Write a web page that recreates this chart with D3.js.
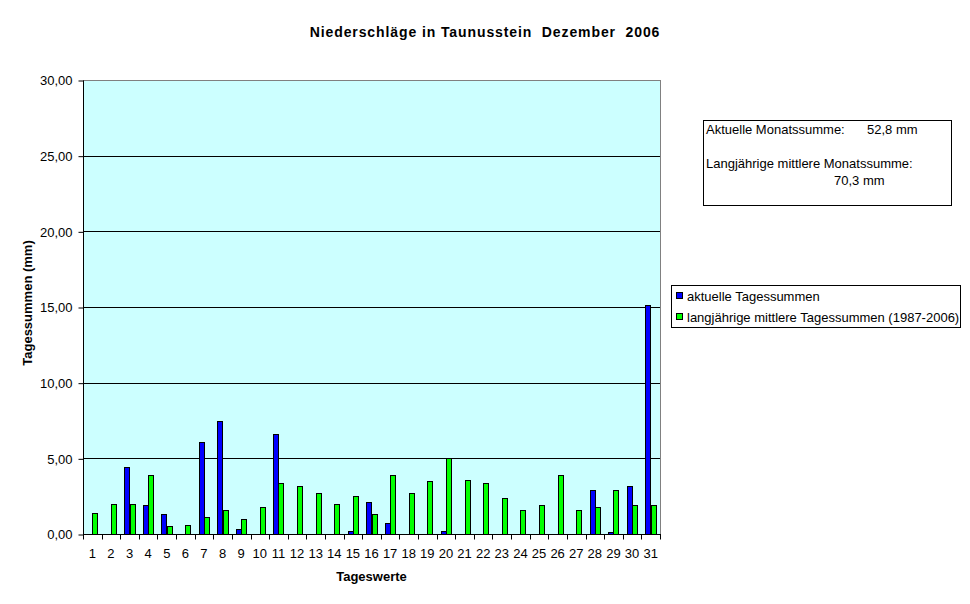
<!DOCTYPE html>
<html><head><meta charset="utf-8">
<script src="https://cdn.jsdelivr.net/npm/d3@7"></script>
<style>body{margin:0;background:#fff;} text{font-family:"Liberation Sans",Arial,sans-serif;}</style>
</head><body>
<svg id="c" width="970" height="604"></svg>
<script>
const days = d3.range(1, 32).map(String);
const aktuell = [0,0,4.4,1.9,1.3,0,6.1,7.5,0.3,0,6.6,0,0,0,0.2,2.1,0.7,0,0,0.2,0,0,0,0,0,0,0,2.9,0.1,3.2,15.1];
const mittel = [1.4,2.0,2.0,3.9,0.5,0.6,1.1,1.6,1.0,1.8,3.4,3.2,2.7,2.0,2.5,1.3,3.9,2.7,3.5,5.0,3.6,3.4,2.4,1.6,1.9,3.9,1.6,1.8,2.9,1.9,1.9];
const yTicks = [0,5,10,15,20,25,30];
const seriesNames = ["aktuelle Tagessummen","langjährige mittlere Tagessummen (1987-2006)"];
const title = "Niederschläge in Taunusstein\u00a0 Dezember\u00a0 2006";
const infoLines = ["Aktuelle Monatssumme:", "52,8 mm", "Langjährige mittlere Monatssumme:", "70,3 mm"];

const FS = 13;
const svg = d3.select("#c");
const L = 83, R = 660, T = 80, B = 534;
const x = d3.scaleBand().domain(days).range([L, R]).paddingInner(0).paddingOuter(0);
const y = d3.scaleLinear().domain([0, 30]).range([B, T]);
const bw = x.bandwidth() / 3.5;

svg.append("rect").attr("x", L + 0.5).attr("y", T + 0.5).attr("width", R - L).attr("height", B - T)
  .attr("fill", "#CCFFFF").attr("stroke", "#808080").attr("stroke-width", 1);

// gridlines
svg.append("g").selectAll("line").data(yTicks.filter(d => d > 0 && d < 30)).join("line")
  .attr("x1", L).attr("x2", R).attr("y1", d => Math.round(y(d)) + 0.5).attr("y2", d => Math.round(y(d)) + 0.5)
  .attr("stroke", "#000").attr("stroke-width", 1);

// bars
const colors = ["#0000FF", "#00FF00"];
[aktuell, mittel].forEach((vals, s) => {
  svg.append("g").selectAll("rect").data(vals.map((v, i) => ({v, d: days[i]})).filter(o => o.v > 0)).join("rect")
    .attr("x", o => Math.round(x(o.d) + x.bandwidth() / 2 - bw + s * bw) + 0.5)
    .attr("y", o => Math.round(y(o.v)) + 0.5)
    .attr("width", Math.round(bw))
    .attr("height", o => B - Math.round(y(o.v)))
    .attr("fill", colors[s]).attr("stroke", "#000").attr("stroke-width", 1);
});

// y axis
const yAxis = d3.axisLeft(y).tickValues(yTicks).tickSize(5).tickPadding(6)
  .tickFormat(d => d3.format(".2f")(d).replace(".", ","));
const ya = svg.append("g").attr("transform", `translate(${L + 0.5},0.5)`).call(yAxis);
ya.select(".domain").attr("stroke", "#000").attr("d", `M0,${T}V${B}`);
ya.selectAll("text").attr("font-size", FS).attr("fill", "#000").style("font-family", '"Liberation Sans",Arial,sans-serif');
ya.selectAll(".tick line").attr("stroke", "#000");

// x axis
const xa = svg.append("g").attr("transform", `translate(0,${B + 0.5})`);
xa.append("line").attr("x1", L).attr("x2", R + 1).attr("stroke", "#000");
xa.selectAll("line.tk").data(days.concat(["end"])).join("line").attr("class", "tk")
  .attr("x1", d => Math.round(d === "end" ? R : x(d)) + 0.5).attr("x2", d => Math.round(d === "end" ? R : x(d)) + 0.5)
  .attr("y1", 0).attr("y2", 5).attr("stroke", "#000");
xa.selectAll("text").data(days).join("text")
  .attr("x", d => x(d) + x.bandwidth() / 2).attr("y", 23)
  .attr("text-anchor", "middle").attr("font-size", FS).text(d => d);

// titles
svg.append("text").attr("x", 485).attr("y", 37).attr("text-anchor", "middle")
  .attr("font-size", 14).attr("font-weight", "bold").attr("letter-spacing", 0.9).text(title);
svg.append("text").attr("x", (L + R) / 2).attr("y", 581).attr("text-anchor", "middle")
  .attr("font-size", 13).attr("font-weight", "bold").text("Tageswerte");
svg.append("text").attr("transform", `translate(32,${(T + B) / 2 - 4}) rotate(-90)`)
  .attr("text-anchor", "middle").attr("font-size", 13).attr("font-weight", "bold").text("Tagessummen (mm)");

// info box
svg.append("rect").attr("x", 703.5).attr("y", 120.5).attr("width", 248).attr("height", 85)
  .attr("fill", "#fff").attr("stroke", "#000");
svg.append("text").attr("x", 706).attr("y", 134).attr("font-size", FS).text(infoLines[0]);
svg.append("text").attr("x", 867).attr("y", 134).attr("font-size", FS).text(infoLines[1]);
svg.append("text").attr("x", 706).attr("y", 168).attr("font-size", FS).text(infoLines[2]);
svg.append("text").attr("x", 834).attr("y", 185).attr("font-size", FS).text(infoLines[3]);

// legend
svg.append("rect").attr("x", 671.5).attr("y", 285.5).attr("width", 289).attr("height", 42)
  .attr("fill", "#fff").attr("stroke", "#000");
const lg = svg.append("g").selectAll("g").data(seriesNames).join("g")
  .attr("transform", (d, i) => `translate(0,${i * 21})`);
lg.append("rect").attr("x", 676.5).attr("y", 292.5).attr("width", 6).attr("height", 6)
  .attr("fill", (d, i) => colors[i]).attr("stroke", "#000");
lg.append("text").attr("x", 687).attr("y", 301).attr("font-size", FS).text(d => d);
</script>
</body></html>
